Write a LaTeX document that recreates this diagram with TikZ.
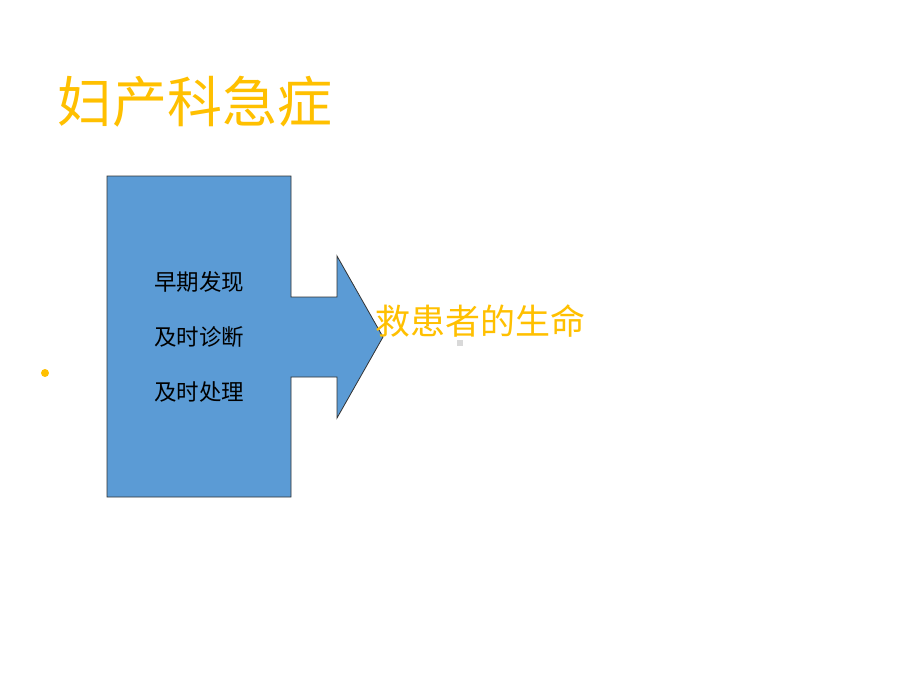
\documentclass[tikz,border=0pt]{standalone}
\usepackage{fontspec}
\newfontfamily\cjk{Noto Sans CJK SC}
\definecolor{gold}{HTML}{FFC000}
\definecolor{boxblue}{HTML}{5B9BD5}
\begin{document}
\begin{tikzpicture}[x=1pt,y=-1pt,
  title/.style={font=\cjk\fontsize{55}{60}\selectfont, text=gold, anchor=base west, inner sep=0pt},
  inner/.style={font=\cjk\fontsize{22.5}{25}\selectfont, text=black, anchor=base west, inner sep=0pt},
  goal/.style={font=\cjk\fontsize{35}{40}\selectfont, text=gold, anchor=base west, inner sep=0pt}]
\useasboundingbox[fill=white] (0,0) rectangle (920,690);
\draw[fill=boxblue, draw=black!80, line width=0.8pt, line join=miter]
  (107,176) -- (291,176) -- (291,297) -- (337,297) -- (337,256) -- (383,337)
  -- (337,418) -- (337,377) -- (291,377) -- (291,497) -- (107,497) -- cycle;
\node[title] (t) at (57,122) {妇产科急症};
\node[inner] (a) at (154,290.5) {早期发现};
\node[inner] (b) at (154,345.5) {及时诊断};
\node[inner] (c) at (154,400.5) {及时处理};
\node[goal] (g) at (375,334) {救患者的生命};
\fill[gold] (45,373) circle (4);
\fill[black!15] (457,340) rectangle (463,346);
\end{tikzpicture}
\end{document}
